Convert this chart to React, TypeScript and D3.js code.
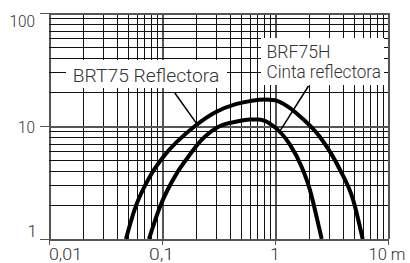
import React from "react";
import * as d3 from "d3";

const xTicks = [0.01, 0.1, 1, 10];
const xTickLabels = ["0,01", "0,1", "1", "10 m"];
const yTicks = [1, 10, 100];
const yTickLabels = ["1", "10", "100"];

// BRT75 Reflectora (outer curve)
const brtX = [0.048, 0.057, 0.081, 0.103, 0.196, 0.3, 0.45, 0.6, 0.8, 1.0, 1.28, 1.556, 2.5, 3.76, 4.93, 5.97];
const brtY = [1, 1.8, 3.8, 5.35, 10, 13.3, 15.6, 16.6, 17.2, 16.9, 15.0, 12.9, 8.0, 4.1, 2.2, 1];

// BRF75H Cinta reflectora (inner curve)
const brfX = [0.0767, 0.096, 0.135, 0.171, 0.224, 0.326, 0.45, 0.6, 0.72, 0.966, 1.36, 1.72, 2.04, 2.37, 2.59];
const brfY = [1, 1.93, 3.81, 5.35, 7.52, 10, 10.9, 11.4, 11.4, 10, 6.8, 4.36, 2.71, 1.47, 1];

const W = 410;
const H = 263;

export default function App() {
  const x = d3.scaleLog().domain([0.01, 10]).range([49, 388]);
  const y = d3.scaleLog().domain([1, 100]).range([239, 13]);

  const vGrid: number[] = [];
  [0.01, 0.1, 1].forEach((d) => {
    for (let m = 1; m <= 9; m++) vGrid.push(d * m);
  });
  vGrid.push(10);
  const hGrid: number[] = [];
  [1, 10].forEach((d) => {
    for (let m = 1; m <= 9; m++) hGrid.push(d * m);
  });
  hGrid.push(100);

  const isDecade = (v: number) => Math.abs(Math.log10(v) - Math.round(Math.log10(v))) < 1e-9;

  const line = d3
    .line<[number, number]>()
    .x((d) => x(d[0]))
    .y((d) => y(d[1]))
    .curve(d3.curveMonotoneX);

  const brt = brtX.map((v, i) => [v, brtY[i]] as [number, number]);
  const brf = brfX.map((v, i) => [v, brfY[i]] as [number, number]);

  const font = "Roboto, 'Liberation Sans', Arial, sans-serif";
  const textColor = "#333";

  return (
    <div style={{ position: "fixed", left: 0, top: 0, width: W, height: H, background: "#fff" }}>
      <svg width={W} height={H} viewBox={`0 0 ${W} ${H}`} style={{ display: "block" }}>
        <rect x={0} y={0} width={W} height={H} fill="#fff" />
        <defs>
          <clipPath id="plot">
            <rect x={x(0.01)} y={y(100)} width={x(10) - x(0.01)} height={y(1) - y(100)} />
          </clipPath>
        </defs>
        {/* grid */}
        <g shapeRendering="crispEdges">
          {vGrid.map((v, i) => (
            <line
              key={"v" + i}
              x1={Math.round(x(v)) + 0.5}
              x2={Math.round(x(v)) + 0.5}
              y1={y(100)}
              y2={y(1)}
              stroke={isDecade(v) ? "#555" : "#111"}
              strokeWidth={isDecade(v) ? 2 : 1}
            />
          ))}
          {hGrid.map((v, i) => (
            <line
              key={"h" + i}
              y1={Math.round(y(v)) + 0.5}
              y2={Math.round(y(v)) + 0.5}
              x1={x(0.01)}
              x2={x(10)}
              stroke={isDecade(v) ? "#555" : "#111"}
              strokeWidth={isDecade(v) ? 2 : 1}
            />
          ))}
          {/* axis tick marks */}
          {yTicks.map((v, i) => (
            <line key={"yt" + i} x1={40} x2={x(0.01)} y1={Math.round(y(v)) + 0.5} y2={Math.round(y(v)) + 0.5} stroke="#555" strokeWidth={1.5} />
          ))}
          {xTicks.map((v, i) => (
            <line key={"xt" + i} x1={Math.round(x(v)) + 0.5} x2={Math.round(x(v)) + 0.5} y1={y(1)} y2={y(1) + 6} stroke="#555" strokeWidth={1.5} />
          ))}
        </g>

        {/* label boxes */}
        <rect x={66} y={60} width={161} height={28} fill="#fff" />
        <rect x={261} y={38} width={123} height={47} fill="#fff" />

        {/* curves */}
        <g clipPath="url(#plot)">
          <path d={line(brt) || ""} fill="none" stroke="#000" strokeWidth={4} strokeLinejoin="round" />
          <path d={line(brf) || ""} fill="none" stroke="#000" strokeWidth={4} strokeLinejoin="round" />
        </g>

        {/* leader lines */}
        <line x1={x(0.13)} y1={y(19.6)} x2={x(0.204)} y2={y(10.4)} stroke="#000" strokeWidth={1.5} />
        <line x1={x(1.98)} y1={y(22.6)} x2={x(1.12)} y2={y(9.2)} stroke="#000" strokeWidth={1.5} />

        {/* annotations */}
        <g fontFamily={font} fontWeight={300} fill={textColor} fontSize={18}>
          <text x={72.7} y={81.7} textLength={146.6} lengthAdjust="spacingAndGlyphs">BRT75 Reflectora</text>
          <text x={266.5} y={57.7} textLength={64} lengthAdjust="spacingAndGlyphs">BRF75H</text>
          <text x={266.5} y={78.3} textLength={114.5} lengthAdjust="spacingAndGlyphs">Cinta reflectora</text>
        </g>

        {/* tick labels */}
        <g fontFamily={font} fontWeight={300} fill={textColor} fontSize={17}>
          <text x={35} y={27} textAnchor="end" textLength={25.5} lengthAdjust="spacingAndGlyphs">{yTickLabels[2]}</text>
          <text x={35} y={132.6} textAnchor="end" textLength={17} lengthAdjust="spacingAndGlyphs">{yTickLabels[1]}</text>
          <text x={37} y={237} textAnchor="end">{yTickLabels[0]}</text>
          <text x={x(xTicks[0])} y={259.5} textAnchor="start" textLength={33} lengthAdjust="spacingAndGlyphs">{xTickLabels[0]}</text>
          <text x={x(xTicks[1]) - 13} y={259.5} textAnchor="start" textLength={25} lengthAdjust="spacingAndGlyphs">{xTickLabels[1]}</text>
          <text x={x(xTicks[2])} y={259.5} textAnchor="middle">{xTickLabels[2]}</text>
          <text x={x(xTicks[3]) - 19.5} y={259.5} textAnchor="start" textLength={37} lengthAdjust="spacingAndGlyphs">{xTickLabels[3]}</text>
        </g>
      </svg>
    </div>
  );
}
